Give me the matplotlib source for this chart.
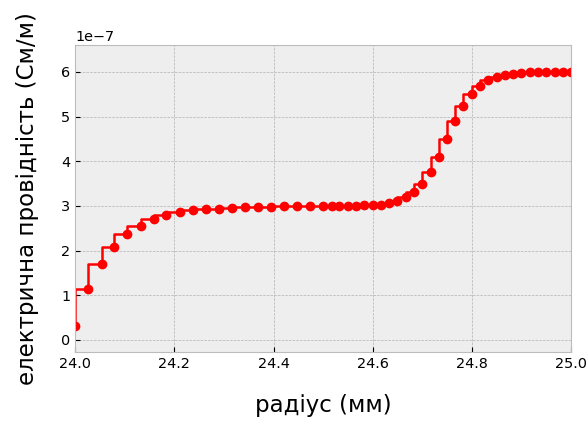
import matplotlib.pyplot as plt

# radius grid: coarse part up to 24.5, fine part after it
radius = [24.000, 24.026, 24.053, 24.079, 24.105, 24.132, 24.158, 24.184, 24.211, 24.237,
          24.263, 24.289, 24.316, 24.342, 24.368, 24.395, 24.421, 24.447, 24.474, 24.500,
          24.517, 24.533, 24.550, 24.567, 24.583, 24.600, 24.617, 24.633, 24.650, 24.667,
          24.683, 24.700, 24.717, 24.733, 24.750, 24.767, 24.783, 24.800, 24.817, 24.833,
          24.850, 24.867, 24.883, 24.900, 24.917, 24.933, 24.950, 24.967, 24.983, 25.000]

# conductivity, units of 1e-7 S/m
sigma = [0.30, 1.13, 1.69, 2.09, 2.38, 2.56, 2.70, 2.80, 2.86, 2.90,
         2.92, 2.94, 2.96, 2.97, 2.98, 2.985, 2.99, 2.99, 2.995, 3.00,
         3.00, 3.00, 3.00, 3.00, 3.01, 3.02, 3.03, 3.06, 3.11, 3.19,
         3.32, 3.49, 3.76, 4.10, 4.50, 4.90, 5.23, 5.50, 5.69, 5.81,
         5.88, 5.93, 5.96, 5.98, 5.99, 5.995, 6.00, 6.00, 6.00, 6.00]

plt.style.use('bmh')

fig, ax = plt.subplots(figsize=(5.88, 4.21), dpi=100)
fig.subplots_adjust(left=0.128, right=0.971, top=0.893, bottom=0.164)

ax.step(radius, [s * 1e-7 for s in sigma], where='pre', color='red',
        marker='o', markersize=6, linewidth=1.8)

ax.set_xlim(24.0, 25.0)
ax.set_ylim(-0.27e-7, 6.6e-7)
ax.tick_params(labelsize=10.4)
ax.yaxis.get_offset_text().set_fontsize(10.4)

ax.set_xlabel('радіус (мм)', fontsize=16.5, labelpad=17)
ax.set_ylabel('електрична провідність (См/м)', fontsize=16.5, labelpad=16)

plt.savefig('out.png', dpi=100)
